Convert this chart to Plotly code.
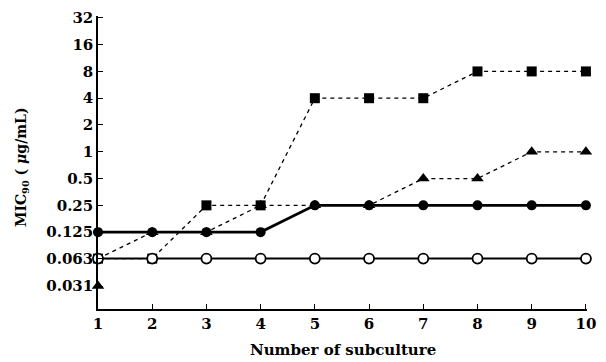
import plotly.graph_objects as go

subculture = [1, 2, 3, 4, 5, 6, 7, 8, 9, 10]
tick_vals = [0.031, 0.063, 0.125, 0.25, 0.5, 1, 2, 4, 8, 16, 32]
tick_text = ["0.031", "0.063", "0.125", "0.25", "0.5", "1", "2", "4", "8", "16", "32"]

squares = [0.063, 0.063, 0.25, 0.25, 4, 4, 4, 8, 8, 8]
triangles = [0.031, 0.125, 0.125, 0.25, 0.25, 0.25, 0.5, 0.5, 1, 1]
filled_circles = [0.125, 0.125, 0.125, 0.125, 0.25, 0.25, 0.25, 0.25, 0.25, 0.25]
open_circles = [0.063] * 10

dash = "4px,4px"
fig = go.Figure()

# triangle series: dashed line (starts from the first square point as in the original)
fig.add_trace(go.Scatter(
    x=subculture, y=[squares[0]] + triangles[1:],
    mode="lines", line=dict(color="black", width=1.3, dash=dash),
    showlegend=False, hoverinfo="skip"))
fig.add_trace(go.Scatter(
    x=subculture, y=triangles, mode="markers",
    marker=dict(symbol="triangle-up", size=11, color="black"),
    cliponaxis=False, showlegend=False))

# square series
fig.add_trace(go.Scatter(
    x=subculture, y=squares, mode="lines+markers",
    line=dict(color="black", width=1.3, dash=dash),
    marker=dict(symbol="square", size=10, color="black"),
    cliponaxis=False, showlegend=False))

# open circles
fig.add_trace(go.Scatter(
    x=subculture, y=open_circles, mode="lines+markers",
    line=dict(color="black", width=2),
    marker=dict(symbol="circle", size=10, color="white", line=dict(color="black", width=1.8)),
    cliponaxis=False, showlegend=False))

# filled circles
fig.add_trace(go.Scatter(
    x=subculture, y=filled_circles, mode="lines+markers",
    line=dict(color="black", width=2.8),
    marker=dict(symbol="circle", size=10, color="black"),
    cliponaxis=False, showlegend=False))

font_family = "DejaVu Serif, serif"

fig.update_layout(
    width=598, height=354,
    margin=dict(l=90, r=19, t=8, b=53, autoexpand=False),
    paper_bgcolor="white", plot_bgcolor="white",
    font=dict(family=font_family, size=15, color="black"),
    xaxis=dict(
        range=[1, 10.02], tickvals=subculture,
        ticktext=["<b>%d</b>" % v for v in subculture],
        ticks="inside", ticklen=5, tickcolor="black", tickwidth=1.2,
        showline=True, linecolor="black", linewidth=1.5,
        showgrid=False, zeroline=False, automargin=False,
    ),
    yaxis=dict(
        type="log", range=[-1.767, 1.526],
        tickvals=tick_vals, ticktext=["<b>%s</b>" % t for t in tick_text],
        ticks="inside", ticklen=5, tickcolor="black", tickwidth=1.2,
        showline=True, linecolor="black", linewidth=1.5,
        showgrid=False, zeroline=False, automargin=False,
    ),
    annotations=[
        dict(text="<b>Number of subculture</b>", xref="paper", yref="paper",
             x=0.5, y=-0.14, yanchor="middle", xanchor="center",
             showarrow=False, font=dict(size=15)),
        dict(text="<b>MIC<sub>90</sub> ( <i>μ</i>g/mL)</b>", xref="paper", yref="paper",
             x=-0.155, y=0.485, xanchor="center", yanchor="middle", textangle=-90,
             showarrow=False, font=dict(size=14)),
    ],
)

fig.write_html("out.html")
